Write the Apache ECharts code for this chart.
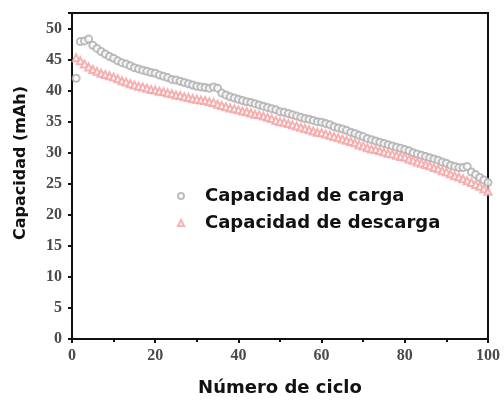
<!DOCTYPE html>
<html>
<head>
<meta charset="utf-8">
<script src="https://cdn.jsdelivr.net/npm/echarts@6/dist/echarts.min.js"></script>
<style>
html,body{margin:0;padding:0;background:#fff;}
#chart{width:504px;height:402px;}
</style>
</head>
<body>
<div id="chart"></div>
<script>
const cycles = [];
for (let i = 1; i <= 100; i++) cycles.push(i);

const chargeCapacity = [
  42.0, 47.9, 48.0, 48.3, 47.3, 46.8, 46.3, 45.9, 45.5, 45.2,
  44.8, 44.5, 44.3, 44.0, 43.7, 43.5, 43.3, 43.1, 42.9, 42.8,
  42.5, 42.3, 42.1, 41.8, 41.7, 41.5, 41.3, 41.1, 40.9, 40.7,
  40.6, 40.5, 40.4, 40.6, 40.4, 39.6, 39.3, 39.0, 38.8, 38.6,
  38.4, 38.2, 38.1, 37.9, 37.7, 37.5, 37.3, 37.1, 36.9, 36.6,
  36.5, 36.3, 36.1, 35.9, 35.7, 35.5, 35.4, 35.2, 35.0, 34.9,
  34.7, 34.5, 34.2, 34.0, 33.8, 33.6, 33.3, 33.1, 32.8, 32.6,
  32.3, 32.1, 31.9, 31.7, 31.5, 31.3, 31.1, 30.9, 30.7, 30.5,
  30.3, 30.0, 29.8, 29.6, 29.4, 29.2, 29.0, 28.8, 28.5, 28.3,
  28.0, 27.8, 27.6, 27.6, 27.8, 26.9, 26.5, 26.0, 25.6, 25.2
];

const dischargeCapacity = [
  45.3, 44.8, 44.3, 43.8, 43.4, 43.1, 42.8, 42.6, 42.4, 42.2,
  41.9, 41.6, 41.4, 41.1, 40.9, 40.7, 40.6, 40.4, 40.2, 40.1,
  39.9, 39.8, 39.6, 39.5, 39.3, 39.2, 39.0, 38.9, 38.7, 38.6,
  38.5, 38.4, 38.2, 38.1, 37.8, 37.6, 37.4, 37.2, 37.1, 36.9,
  36.7, 36.6, 36.4, 36.2, 36.1, 35.9, 35.7, 35.5, 35.2, 35.0,
  34.9, 34.7, 34.5, 34.3, 34.1, 33.9, 33.7, 33.5, 33.3, 33.2,
  33.0, 32.8, 32.6, 32.4, 32.2, 32.0, 31.8, 31.6, 31.3, 31.1,
  30.8, 30.6, 30.5, 30.3, 30.1, 29.9, 29.8, 29.6, 29.4, 29.3,
  29.0, 28.8, 28.5, 28.3, 28.1, 27.9, 27.6, 27.4, 27.1, 26.9,
  26.6, 26.3, 26.1, 25.8, 25.5, 25.2, 24.9, 24.6, 24.2, 23.8
];

const seriesNames = ['Capacidad de carga', 'Capacidad de descarga'];
const xTitle = 'Número de ciclo';
const yTitle = 'Capacidad (mAh)';

const chart = echarts.init(document.getElementById('chart'), null, {renderer: 'canvas'});

const tickFont = {fontFamily: 'Liberation Serif', fontWeight: 'bold', fontSize: 16, color: '#4a4a4a'};
const titleFont = {fontFamily: 'DejaVu Sans', fontWeight: 'bold', color: '#111'};

chart.setOption({
  animation: false,
  backgroundColor: '#fff',
  grid: {left: 72, right: 16, top: 13, bottom: 60, show: true, borderColor: '#111', borderWidth: 2, backgroundColor: 'transparent'},
  legend: {
    orient: 'vertical',
    left: 172,
    top: 182,
    itemWidth: 6,
    itemHeight: 6,
    itemGap: 9,
    data: seriesNames,
    textStyle: Object.assign({fontSize: 18, padding: [0, 0, 0, 16]}, titleFont)
  },
  xAxis: {
    type: 'value',
    min: 0, max: 100, interval: 20,
    name: xTitle,
    nameLocation: 'middle',
    nameGap: 40,
    nameTextStyle: Object.assign({fontSize: 18}, titleFont),
    axisLine: {show: true, lineStyle: {color: '#111', width: 2}},
    axisTick: {show: true, length: 4, lineStyle: {color: '#111', width: 2}},
    minorTick: {show: true, splitNumber: 2, length: 3, lineStyle: {color: '#111', width: 2}},
    splitLine: {show: false},
    axisLabel: Object.assign({margin: 9}, tickFont)
  },
  yAxis: {
    type: 'value',
    min: 0, max: 52.5, interval: 5,
    name: yTitle,
    nameLocation: 'middle',
    nameGap: 43,
    nameTextStyle: Object.assign({fontSize: 16, padding: [0, 0, 0, 26]}, titleFont),
    axisLine: {show: true, lineStyle: {color: '#111', width: 2}},
    axisTick: {show: true, length: 4, lineStyle: {color: '#111', width: 2}},
    splitLine: {show: false},
    axisLabel: Object.assign({margin: 10, formatter: v => (v % 5 === 0 ? String(v) : '')}, tickFont)
  },
  series: [
    {
      name: seriesNames[0],
      type: 'scatter',
      symbol: 'emptyCircle',
      symbolSize: 7,
      itemStyle: {color: '#acacac', borderColor: '#acacac', borderWidth: 1.1},
      data: cycles.map((c, i) => [c, chargeCapacity[i]])
    },
    {
      name: seriesNames[1],
      type: 'scatter',
      symbol: 'emptyTriangle',
      symbolSize: 7,
      itemStyle: {color: '#f4a0a0', borderColor: '#f4a0a0', borderWidth: 1.1},
      data: cycles.map((c, i) => [c, dischargeCapacity[i]])
    }
  ]
});
</script>
</body>
</html>
